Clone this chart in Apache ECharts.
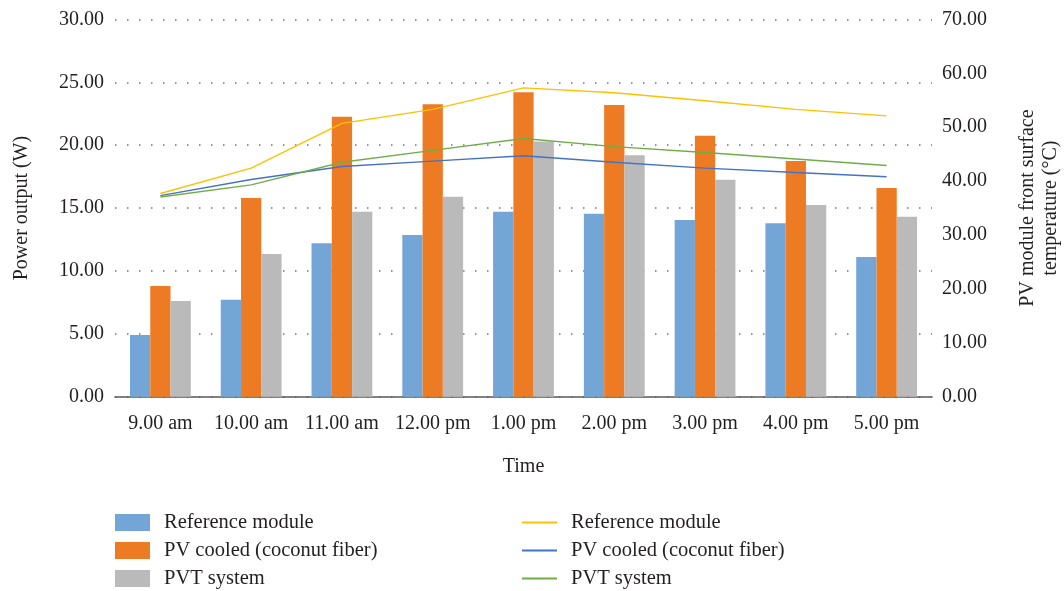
<!DOCTYPE html>
<html>
<head>
<meta charset="utf-8">
<script src="https://cdn.jsdelivr.net/npm/echarts@6/dist/echarts.min.js"></script>
<style>
  html, body { margin: 0; padding: 0; background: #ffffff; }
  #chart { width: 1064px; height: 591px; }
</style>
</head>
<body>
<div id="chart"></div>
<script>
// Hourly readings
const categories = ['9.00 am', '10.00 am', '11.00 am', '12.00 pm', '1.00 pm', '2.00 pm', '3.00 pm', '4.00 pm', '5.00 pm'];

// Power output (W) – bars, left axis
const powerReference = [4.9, 7.7, 12.2, 12.85, 14.7, 14.55, 14.05, 13.8, 11.1];
const powerCoconut = [8.8, 15.8, 22.25, 23.25, 24.2, 23.2, 20.75, 18.75, 16.6];
const powerPVT = [7.6, 11.35, 14.7, 15.9, 20.3, 19.2, 17.25, 15.25, 14.3];

// Front surface temperature (°C) – lines, right axis
const tempReference = [37.7, 42.4, 50.7, 53.3, 57.3, 56.4, 54.9, 53.3, 52.1];
const tempCoconut = [37.3, 40.3, 42.7, 43.7, 44.7, 43.5, 42.4, 41.6, 40.8];
const tempPVT = [37.05, 39.3, 43.5, 45.7, 47.9, 46.4, 45.3, 44.1, 42.9];

const seriesNames = ['Reference module', 'PV cooled (coconut fiber)', 'PVT system'];
const lineSuffix = ' \u00b7T';

const FONT = 'Liberation Serif';
const TEXT = '#231f20';

const chart = echarts.init(document.getElementById('chart'), null, { renderer: 'canvas' });

const barColors = ['#73a6d7', '#ed7b24', '#bababa'];
const lineColors = ['#ffc000', '#4472c4', '#70ad47'];
const powerData = [powerReference, powerCoconut, powerPVT];
const tempData = [tempReference, tempCoconut, tempPVT];

const series = [];
seriesNames.forEach((n, i) => {
  series.push({
    name: n,
    type: 'bar',
    yAxisIndex: 0,
    data: powerData[i],
    itemStyle: { color: barColors[i] },
    barGap: '0%',
    barCategoryGap: '33%',
    z: 2
  });
});
seriesNames.forEach((n, i) => {
  series.push({
    name: n + lineSuffix,
    type: 'line',
    yAxisIndex: 1,
    data: tempData[i],
    symbol: 'none',
    lineStyle: { color: lineColors[i], width: 1.4 },
    itemStyle: { color: lineColors[i] },
    z: 3
  });
});

const legendText = { fontFamily: FONT, fontSize: 20.5, color: TEXT, lineHeight: 20, padding: [0, 0, 0, 9] };
const axisFont = { fontFamily: FONT, fontSize: 20, color: TEXT };

chart.setOption({
  animation: false,
  backgroundColor: '#ffffff',
  textStyle: { fontFamily: FONT, color: TEXT },
  grid: { left: 115, right: 132, top: 19.4, bottom: 194.3, containLabel: false, outerBoundsMode: 'none' },
  legend: [
    {
      data: seriesNames,
      orient: 'vertical',
      left: 115,
      top: 512,
      height: 90,
      padding: 0,
      icon: 'rect',
      itemWidth: 35,
      itemHeight: 17,
      itemGap: 7,
      textStyle: legendText,
      selectedMode: false
    },
    {
      data: seriesNames.map(n => n + lineSuffix),
      orient: 'vertical',
      left: 522,
      top: 512,
      height: 90,
      padding: 0,
      icon: 'rect',
      itemWidth: 35,
      itemHeight: 2,
      itemGap: 7,
      textStyle: legendText,
      formatter: name => name.replace(lineSuffix, ''),
      selectedMode: false
    }
  ],
  xAxis: {
    type: 'category',
    data: categories,
    name: 'Time',
    nameLocation: 'middle',
    nameGap: 60,
    nameTextStyle: axisFont,
    axisLine: { lineStyle: { color: '#595959', width: 1.5 } },
    axisTick: { alignWithLabel: true, length: 6, lineStyle: { color: '#595959', width: 1.5 } },
    axisLabel: Object.assign({ margin: 17, interval: 0 }, axisFont)
  },
  yAxis: [
    {
      type: 'value',
      min: 0,
      max: 30,
      interval: 5,
      name: 'Power output (W)',
      nameLocation: 'middle',
      nameRotate: 90,
      nameGap: 83,
      nameTextStyle: axisFont,
      axisLine: { show: false },
      axisTick: { show: false },
      axisLabel: Object.assign({ margin: 11, formatter: v => v.toFixed(2) }, axisFont),
      splitLine: { show: true, lineStyle: { color: '#767676', width: 1.5, type: [1.5, 10.5] } }
    },
    {
      type: 'value',
      min: 0,
      max: 70,
      interval: 10,
      name: 'PV module front surface\ntemperature (\u00b0C)',
      nameLocation: 'middle',
      nameRotate: 90,
      nameGap: 84,
      nameTextStyle: Object.assign({ lineHeight: 23 }, axisFont),
      axisLine: { show: false },
      axisTick: { show: false },
      axisLabel: Object.assign({ margin: 10, formatter: v => v.toFixed(2) }, axisFont),
      splitLine: { show: false }
    }
  ],
  series: series
});
</script>
</body>
</html>
